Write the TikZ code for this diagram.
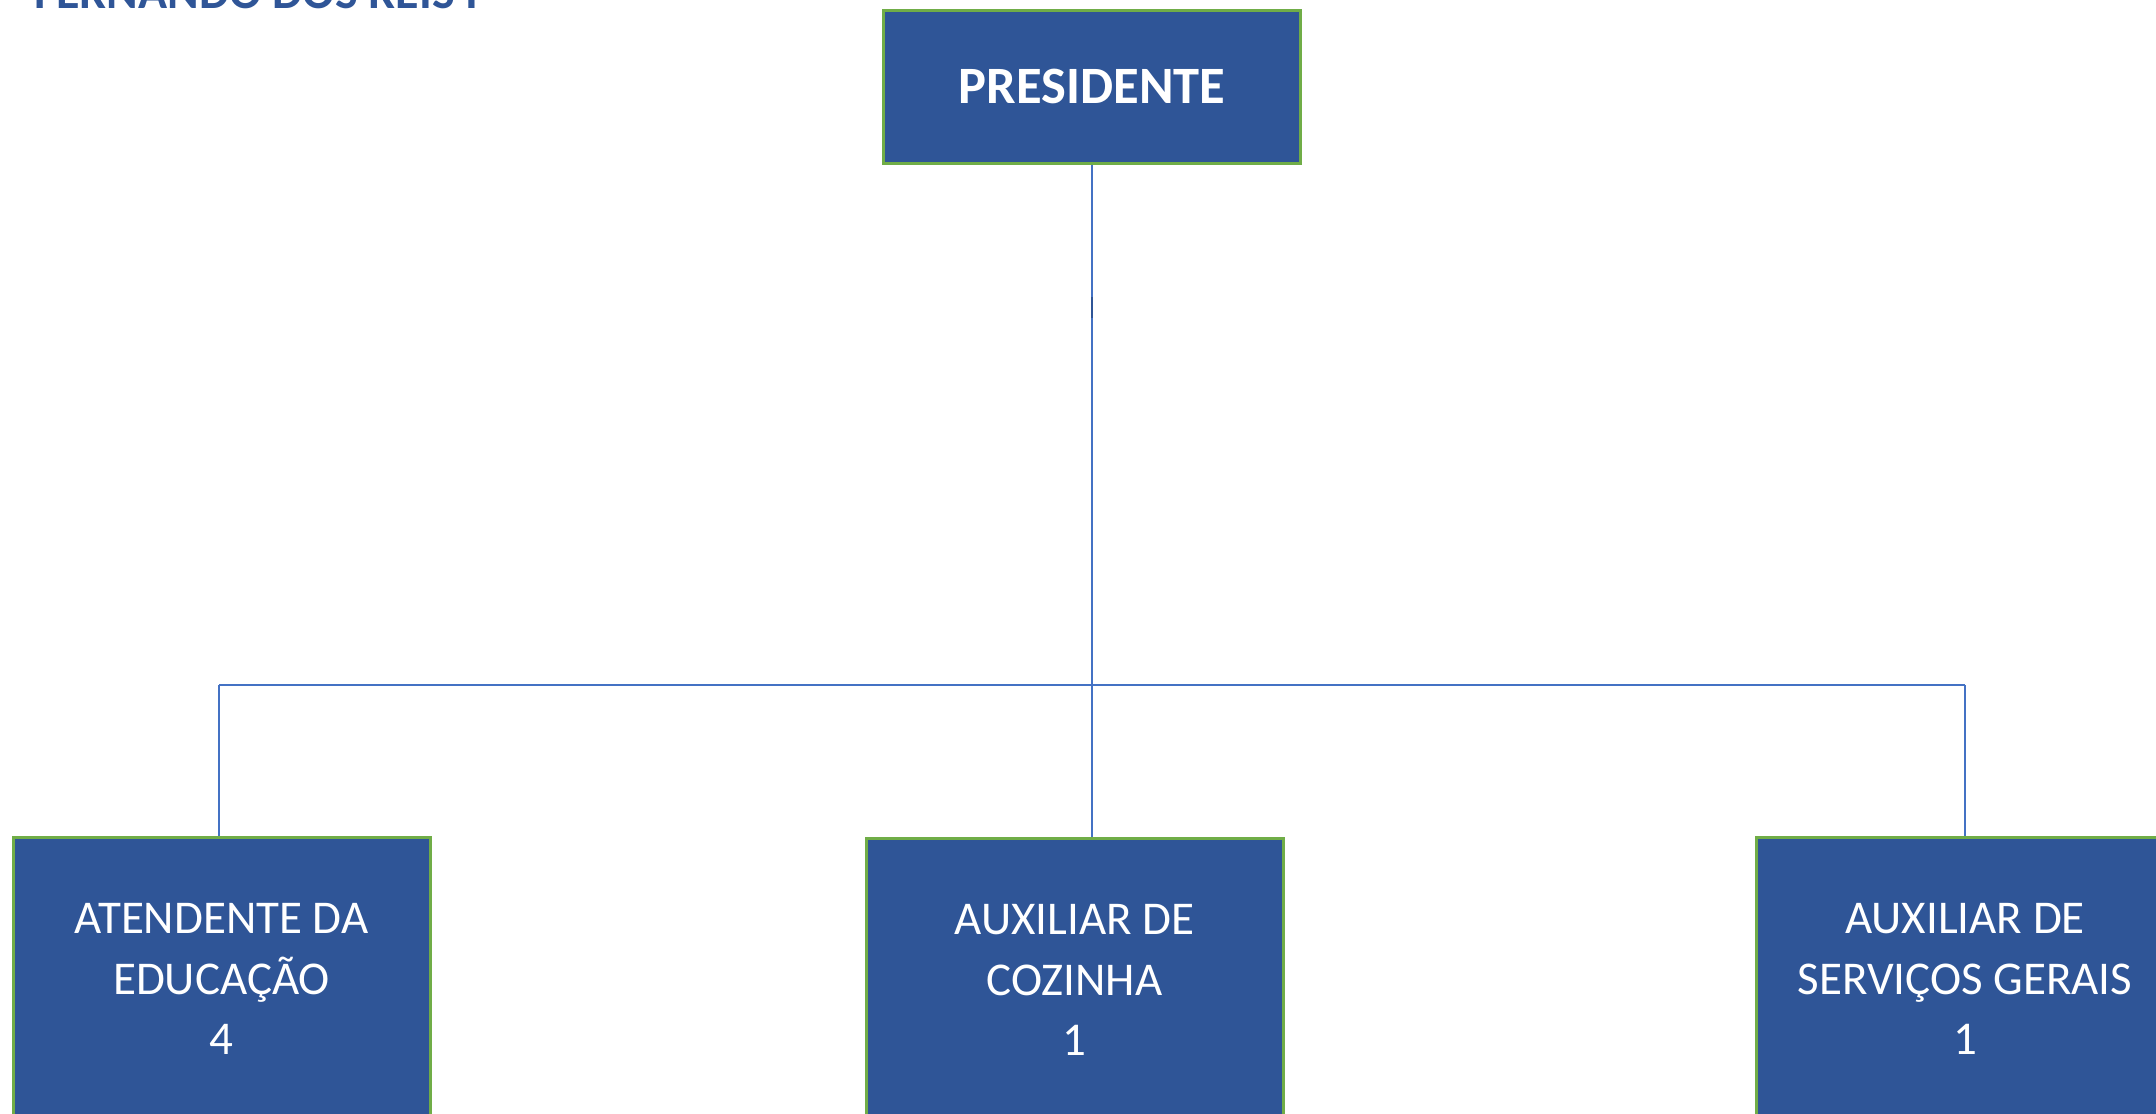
\documentclass[tikz,border=0pt]{standalone}
\usepackage{fontspec}
\setmainfont{Carlito}
\definecolor{boxblue}{HTML}{2F5597}
\definecolor{boxgreen}{HTML}{70AD47}
\definecolor{linkblue}{HTML}{4472C4}
\begin{document}
\begin{tikzpicture}[x=1pt,y=-1pt,
  orgbox/.style={draw=boxgreen,line width=3pt,fill=boxblue,text=white,minimum width=417pt,inner sep=0pt,align=center},
  staffbox/.style={orgbox,minimum height=284pt,font=\fontsize{47}{60.5}\selectfont},
  link/.style={draw=linkblue,line width=1.5pt}]
\useasboundingbox (0,0) rectangle (2156,1114);
\clip (0,0) rectangle (2156,1114);
\node[anchor=base west,inner sep=0pt,text=boxblue,font=\bfseries\fontsize{48}{58}\selectfont] (title) at (34,8) {FERNANDO DOS REIS I};
\node[orgbox,minimum height=153pt,font=\bfseries\fontsize{52.5}{60}\selectfont] (pres) at (1092,86.5) {PRESIDENTE};
\node[staffbox] (aten) at (221.5,979) {ATENDENTE DA\\EDUCAÇÃO\\4};
\node[staffbox] (coz) at (1074.5,980) {AUXILIAR DE\\COZINHA\\1};
\node[staffbox] (serv) at (1965,979) {AUXILIAR DE\\SERVIÇOS GERAIS\\1};
\coordinate (bus) at (1092,685);
\coordinate (busL) at (219,685);
\coordinate (tickA) at (1092,297);
\coordinate (tickB) at (1092,318);
\draw[link] (pres.south) -- (pres.south |- coz.north);
\draw[link] (busL) -- (serv.north |- bus);
\draw[link] (busL) -- (busL |- aten.north);
\draw[link] (serv.north |- bus) -- (serv.north);
\draw[draw=boxblue,line width=2pt] (tickA) -- (tickB);
\end{tikzpicture}
\end{document}
